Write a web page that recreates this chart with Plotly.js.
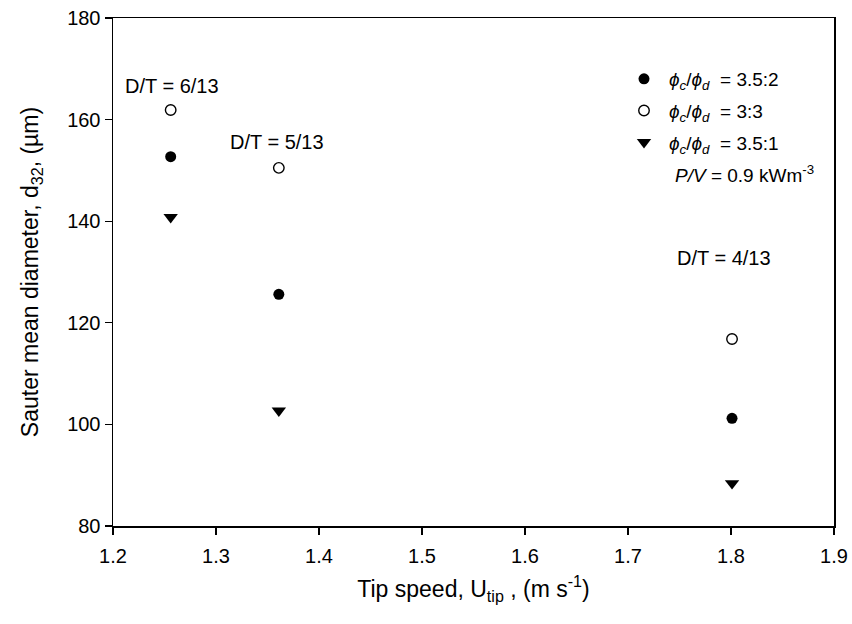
<!DOCTYPE html>
<html>
<head>
<meta charset="utf-8">
<script src="https://cdn.plot.ly/plotly-3.0.1.min.js"></script>
<style>
  html, body { margin: 0; padding: 0; background: #fff; }
  #chart { width: 852px; height: 624px; }
</style>
</head>
<body>
<div id="chart"></div>
<script>
// Impeller tip speed (m/s) for the three D/T ratios
const tipSpeed = [1.256, 1.361, 1.801];
const ratioLabels = ['D/T = 6/13', 'D/T = 5/13', 'D/T = 4/13'];

// Sauter mean diameter d32 (µm) for each phase ratio
const d32_35_2 = [152.7, 125.6, 101.2];
const d32_3_3  = [161.9, 150.5, 116.8];
const d32_35_1 = [140.8, 102.7, 88.4];

const seriesNames = [
  '<i>ϕ<sub>c</sub></i>/<i>ϕ<sub>d</sub></i>  = 3.5:2',
  '<i>ϕ<sub>c</sub></i>/<i>ϕ<sub>d</sub></i>  = 3:3',
  '<i>ϕ<sub>c</sub></i>/<i>ϕ<sub>d</sub></i>  = 3.5:1'
];

// label anchor points (data units) for the D/T annotations
const labelX = [1.257, 1.359, 1.793];
const labelY = [166.6, 155.6, 132.7];

const FONT = 'Liberation Sans, Arial, sans-serif';

const traces = [
  {
    x: tipSpeed, y: d32_35_2, name: seriesNames[0], mode: 'markers', type: 'scatter',
    legendgroup: 'a',
    marker: { symbol: 'circle', size: 11, color: '#000', line: { width: 0 } }
  },
  {
    x: tipSpeed, y: d32_3_3, name: seriesNames[1], mode: 'markers', type: 'scatter',
    legendgroup: 'b',
    marker: { symbol: 'circle-open', size: 10.5, color: '#000', line: { width: 1.4, color: '#000' } }
  },
  {
    x: tipSpeed, y: d32_35_1, name: seriesNames[2], mode: 'markers', type: 'scatter',
    legendgroup: 'c',
    marker: { symbol: 'triangle-down', size: 12.5, color: '#000', line: { width: 0 } }
  }
];

const annotations = ratioLabels.map((t, i) => ({
  x: labelX[i], y: labelY[i], xref: 'x', yref: 'y',
  text: t, showarrow: false, xanchor: 'center', yanchor: 'middle',
  font: { family: FONT, size: 20, color: '#000' }
}));

annotations.push({
  x: (673 - 113) / 721, y: 1 - (174 - 18) / 508, xref: 'paper', yref: 'paper',
  text: '<i>P/V</i> = 0.9 kWm<sup>-3</sup>', showarrow: false,
  xanchor: 'left', yanchor: 'middle',
  font: { family: FONT, size: 19, color: '#000' }
});

const axisCommon = {
  showline: true, linecolor: '#000', linewidth: 1.5, mirror: true,
  ticks: 'outside', ticklen: 7, tickwidth: 1.2, tickcolor: '#000',
  showgrid: false, zeroline: false,
  tickfont: { family: FONT, size: 20, color: '#000' }
};

const layout = {
  width: 852, height: 624,
  paper_bgcolor: '#fff', plot_bgcolor: '#fff',
  margin: { l: 113, r: 18, t: 18, b: 98 },
  font: { family: FONT, color: '#000' },
  xaxis: Object.assign({}, axisCommon, {
    range: [1.2, 1.9], dtick: 0.1, tick0: 1.2, tickformat: '.1f',
    ticklabelstandoff: 4,
    title: { text: 'Tip speed, U<sub>tip</sub> , (m s<sup>-1</sup>)', standoff: 15,
             font: { family: FONT, size: 23, color: '#000' } }
  }),
  yaxis: Object.assign({}, axisCommon, {
    range: [80, 180], dtick: 20, tick0: 80,
    title: { text: 'Sauter mean diameter, d<sub>32</sub>, (µm)', standoff: 22,
             font: { family: FONT, size: 23, color: '#000' } }
  }),
  showlegend: true,
  legend: {
    x: (619 - 113) / 721, y: 1 - (60 - 18) / 508, xanchor: 'left', yanchor: 'top',
    bgcolor: 'rgba(0,0,0,0)', borderwidth: 0,
    font: { family: FONT, size: 19, color: '#000' },
    tracegroupgap: 4, itemwidth: 40
  },
  annotations: annotations
};

Plotly.newPlot('chart', traces, layout, { displayModeBar: false, staticPlot: true });
</script>
</body>
</html>
